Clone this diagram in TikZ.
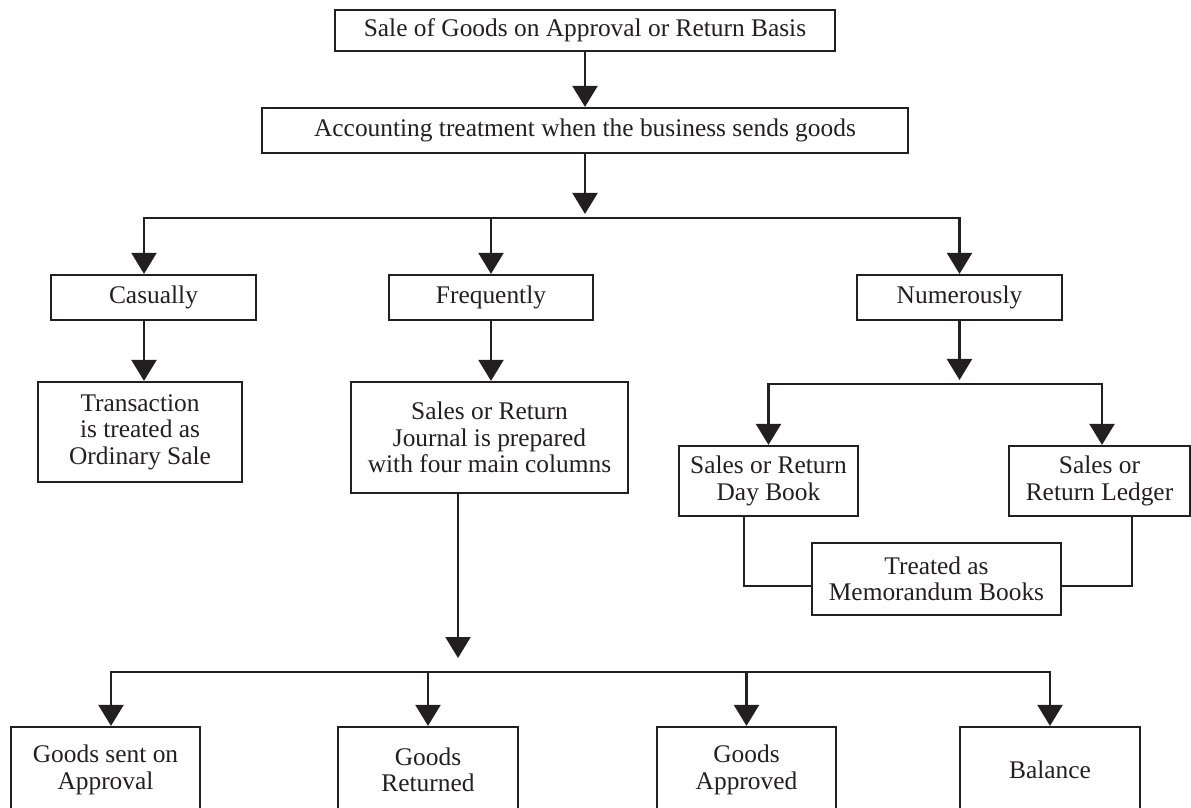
\documentclass[tikz,border=0pt]{standalone}
\usepackage{fontspec}
\setmainfont{Liberation Serif}
\usetikzlibrary{arrows.meta}
\definecolor{ink}{RGB}{35,31,32}
\tikzset{
  box/.style={draw=ink, line width=1.1pt, text=ink, align=center, inner sep=0pt,
    font=\fontsize{12.7}{13.2}\selectfont},
  wh/.style 2 args={minimum width=#1*0.5pt, minimum height=#2*0.5pt},
  link/.style={draw=ink, line width=1.1pt},
  arr/.style={link, -{Triangle[width=12.5pt,length=10.5pt]}},
}
\begin{document}
\begin{tikzpicture}[x=0.5pt, y=-0.5pt]
\path[use as bounding box] (0,0) rectangle (1191,808);
\clip (0,0) rectangle (1191,808);

% boxes
\node[box, wh={500}{41}]  (top) at (585,30.5)   {Sale of Goods on Approval or Return Basis};
\node[box, wh={646}{45}]  (acc) at (585,130.5)  {Accounting treatment when the business sends goods};
\node[box, wh={205}{45}]  (cas) at (153.5,297.5){Casually};
\node[box, wh={204}{45}]  (fre) at (491,297.5)  {Frequently};
\node[box, wh={205}{45}]  (num) at (959.5,297.5){Numerously};
\node[box, wh={204}{100}] (tra) at (140,432)    {Transaction\\is treated as\\Ordinary Sale};
\node[box, wh={277}{111}] (jou) at (489.5,437.5){Sales or Return\\Journal is prepared\\with four main columns};
\node[box, wh={179}{70}]  (day) at (768.5,481)  {Sales or Return\\Day Book};
\node[box, wh={181}{70}]  (led) at (1099.5,481) {Sales or\\Return Ledger};
\node[box, wh={249}{72}]  (mem) at (936.5,579)  {Treated as\\Memorandum Books};
\node[box, wh={189}{86}]  (gsa) at (105.5,770)  {Goods sent on\\Approval};
\node[box, wh={180}{86}]  (gre) at (428,770)    {Goods\\Returned};
\node[box, wh={179}{86}]  (gap) at (746.5,770)  {Goods\\Approved};
\node[box, wh={180}{86}]  (bal) at (1050,770)   {Balance};

% junction points
\coordinate (t1) at (585,214);
\coordinate (m1) at (585,218);
\coordinate (t2) at (959.5,380);
\coordinate (m2) at (959.5,384);
\coordinate (t3) at (458,658);
\coordinate (m3) at (458,672);

% top spine
\draw[arr] (top) -- (acc);
\draw[arr] (acc) -- (t1);
\draw[arr] (m1) -| (cas.north -| 144,0);
\draw[arr] (m1) -| (num.north);
\draw[arr] (fre.north |- m1) -- (fre.north);

% second level
\draw[arr] (cas.south -| 144,0) -- (tra.north -| 144,0);
\draw[arr] (fre) -- (fre |- jou.north);
\draw[arr] (num) -- (t2);
\draw[arr] (m2) -| (day.north);
\draw[arr] (m2) -| (led.north -| 1102,0);

% memorandum links
\draw[link] (day.south -| 744,0) |- (mem.west |- 0,586);
\draw[link] (led.south -| 1132,0) |- (mem.east |- 0,586);

% journal columns
\draw[arr] (jou.south -| t3) -- (t3);
\draw[arr] (m3) -| (gsa.north -| 111,0);
\draw[arr] (m3) -| (bal.north);
\draw[arr] (gre.north |- m3) -- (gre.north);
\draw[arr] (gap.north |- m3) -- (gap.north);
\end{tikzpicture}
\end{document}
